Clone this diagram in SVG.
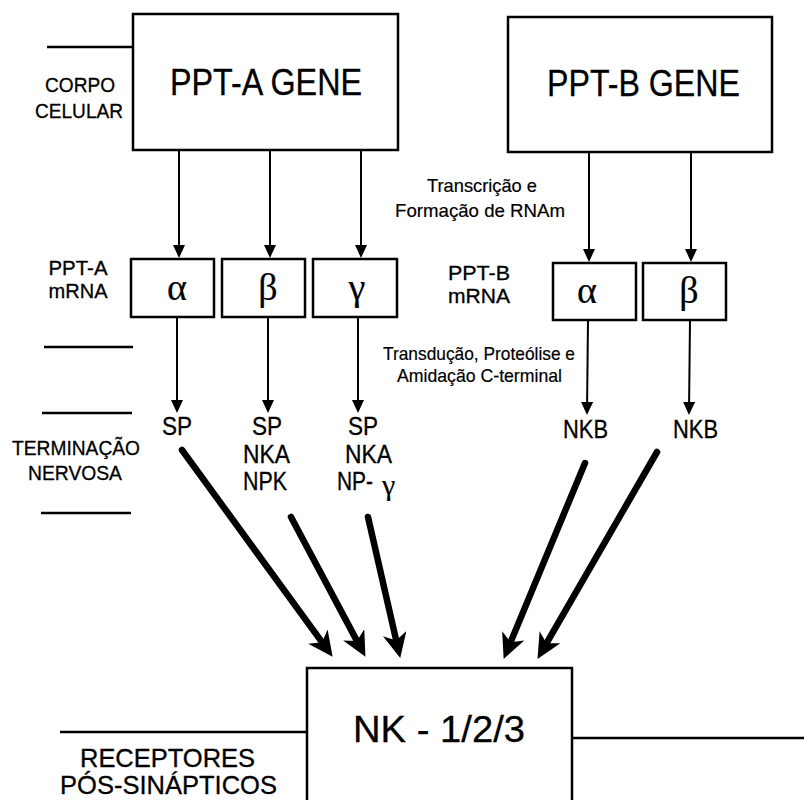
<svg xmlns="http://www.w3.org/2000/svg" width="804" height="800" viewBox="0 0 804 800">
<defs>
<style>
.box{fill:#fff;stroke:#000;stroke-width:2.5}
.sep{stroke:#000;stroke-width:2.5;fill:none}
.thin{stroke:#000;stroke-width:2;fill:none;marker-end:url(#sm)}
.thick{stroke:#000;stroke-width:6.5;fill:none;stroke-linecap:round;marker-end:url(#big)}
text{font-family:"Liberation Sans",Arial,sans-serif;fill:#000;text-anchor:middle;stroke:#000;stroke-width:0.3}
.gk{font-family:"Liberation Serif","Times New Roman",serif;font-size:38px;stroke-width:0.2}
.big{font-size:37px}
.lbl{font-size:21px}
.mid{font-size:19px;stroke-width:0.2}
.pep{font-size:26px}
.rc{font-size:25px}
</style>
<marker id="sm" markerUnits="userSpaceOnUse" markerWidth="13" markerHeight="12" refX="10" refY="6" orient="auto">
<path d="M0,0 L13,6 L0,12 z" fill="#000"/>
</marker>
<marker id="big" markerUnits="userSpaceOnUse" markerWidth="26" markerHeight="24" refX="10" refY="12" orient="auto">
<path d="M0,0 L25,12 L0,24 L7,12 z" fill="#000"/>
</marker>
</defs>
<rect width="804" height="800" fill="#fff"/>

<g id="separators">
<line class="sep" x1="47" y1="47" x2="134" y2="47"/>
<line class="sep" x1="44" y1="347" x2="133" y2="347"/>
<line class="sep" x1="42" y1="413" x2="132" y2="413"/>
<line class="sep" x1="41" y1="513" x2="131" y2="513"/>
<line class="sep" x1="60" y1="732" x2="307" y2="732"/>
<line class="sep" x1="572" y1="738" x2="804" y2="738"/>
</g>

<g id="region-labels">
<text class="lbl" x="80" y="92" textLength="70" lengthAdjust="spacingAndGlyphs">CORPO</text>
<text class="lbl" x="79" y="118" textLength="88" lengthAdjust="spacingAndGlyphs">CELULAR</text>
<text class="lbl" x="78" y="275" textLength="59" lengthAdjust="spacingAndGlyphs">PPT-A</text>
<text class="lbl" x="78" y="298" textLength="59" lengthAdjust="spacingAndGlyphs">mRNA</text>
<text class="lbl" x="76" y="455" font-size="23" textLength="128" lengthAdjust="spacingAndGlyphs">TERMINAÇÃO</text>
<text class="lbl" x="75" y="480" font-size="23" textLength="94" lengthAdjust="spacingAndGlyphs">NERVOSA</text>
<text class="rc" x="167.5" y="767" textLength="175" lengthAdjust="spacingAndGlyphs">RECEPTORES</text>
<text class="rc" x="168.5" y="794" textLength="217" lengthAdjust="spacingAndGlyphs">PÓS-SINÁPTICOS</text>
<text class="lbl" x="479" y="280" textLength="62" lengthAdjust="spacingAndGlyphs">PPT-B</text>
<text class="lbl" x="479" y="303" textLength="62" lengthAdjust="spacingAndGlyphs">mRNA</text>
<text class="mid" x="482" y="192" textLength="110" lengthAdjust="spacingAndGlyphs">Transcrição e</text>
<text class="mid" x="480" y="217" textLength="170" lengthAdjust="spacingAndGlyphs">Formação de RNAm</text>
<text class="mid" x="479" y="360" textLength="192" lengthAdjust="spacingAndGlyphs">Transdução, Proteólise e</text>
<text class="mid" x="479.5" y="382" textLength="165" lengthAdjust="spacingAndGlyphs">Amidação C-terminal</text>
</g>

<g id="ppt-a-gene">
<rect class="box" x="133" y="14" width="265" height="136"/>
<text class="big" x="266" y="95" textLength="192" lengthAdjust="spacingAndGlyphs">PPT-A GENE</text>
</g>
<g id="ppt-b-gene">
<rect class="box" x="508" y="17" width="264" height="135"/>
<text class="big" x="643.5" y="96" textLength="193" lengthAdjust="spacingAndGlyphs">PPT-B GENE</text>
</g>

<g id="a-alpha"><rect class="box" x="131" y="259" width="83" height="58"/><text class="gk" x="177" y="300">α</text></g>
<g id="a-beta"><rect class="box" x="222" y="259" width="83" height="58"/><text class="gk" x="268" y="300">β</text></g>
<g id="a-gamma"><rect class="box" x="313" y="259" width="84" height="58"/><text class="gk" x="357" y="300">γ</text></g>
<g id="b-alpha"><rect class="box" x="553" y="263" width="83" height="57"/><text class="gk" x="587" y="303">α</text></g>
<g id="b-beta"><rect class="box" x="643" y="263" width="83" height="57"/><text class="gk" x="689" y="303">β</text></g>

<g id="peptides-a1"><text class="pep" x="177" y="435" textLength="30" lengthAdjust="spacingAndGlyphs">SP</text></g>
<g id="peptides-a2">
<text class="pep" x="267" y="435" textLength="30" lengthAdjust="spacingAndGlyphs">SP</text>
<text class="pep" x="266.5" y="463" textLength="47" lengthAdjust="spacingAndGlyphs">NKA</text>
<text class="pep" x="265" y="490" textLength="44" lengthAdjust="spacingAndGlyphs">NPK</text>
</g>
<g id="peptides-a3">
<text class="pep" x="363" y="435" textLength="30" lengthAdjust="spacingAndGlyphs">SP</text>
<text class="pep" x="368.5" y="463" textLength="47" lengthAdjust="spacingAndGlyphs">NKA</text>
<text class="pep" x="337" y="490" style="text-anchor:start"><tspan textLength="36" lengthAdjust="spacingAndGlyphs">NP-</tspan><tspan dx="9" dy="5" font-family="Liberation Serif, Times New Roman, serif" font-size="30" stroke-width="0.2">γ</tspan></text>
</g>
<g id="peptides-b1"><text class="pep" x="585.5" y="438" textLength="45" lengthAdjust="spacingAndGlyphs">NKB</text></g>
<g id="peptides-b2"><text class="pep" x="695.5" y="438" textLength="45" lengthAdjust="spacingAndGlyphs">NKB</text></g>

<g id="nk-receptor">
<rect class="box" x="307" y="668" width="265" height="140"/>
<text class="big" x="439" y="742" textLength="172" lengthAdjust="spacingAndGlyphs">NK - 1/2/3</text>
</g>

<g id="connectors">
<line class="thin" x1="179" y1="150" x2="179" y2="255"/>
<line class="thin" x1="270" y1="150" x2="270" y2="255"/>
<line class="thin" x1="361" y1="150" x2="361" y2="255"/>
<line class="thin" x1="589" y1="152" x2="589" y2="259"/>
<line class="thin" x1="691" y1="152" x2="691" y2="259"/>
<line class="thin" x1="177" y1="317" x2="177" y2="410"/>
<line class="thin" x1="268" y1="317" x2="268" y2="410"/>
<line class="thin" x1="358" y1="317" x2="358" y2="410"/>
<line class="thin" x1="588" y1="320" x2="587" y2="412"/>
<line class="thin" x1="690" y1="320" x2="689" y2="412"/>
<line class="thick" x1="182" y1="450" x2="323.8" y2="644.7"/>
<line class="thick" x1="291" y1="517" x2="358.4" y2="643.6"/>
<line class="thick" x1="368" y1="517" x2="396.9" y2="643.4"/>
<line class="thick" x1="585" y1="463" x2="509.4" y2="645.1"/>
<line class="thick" x1="657" y1="452" x2="545" y2="645.9"/>
</g>
</svg>
